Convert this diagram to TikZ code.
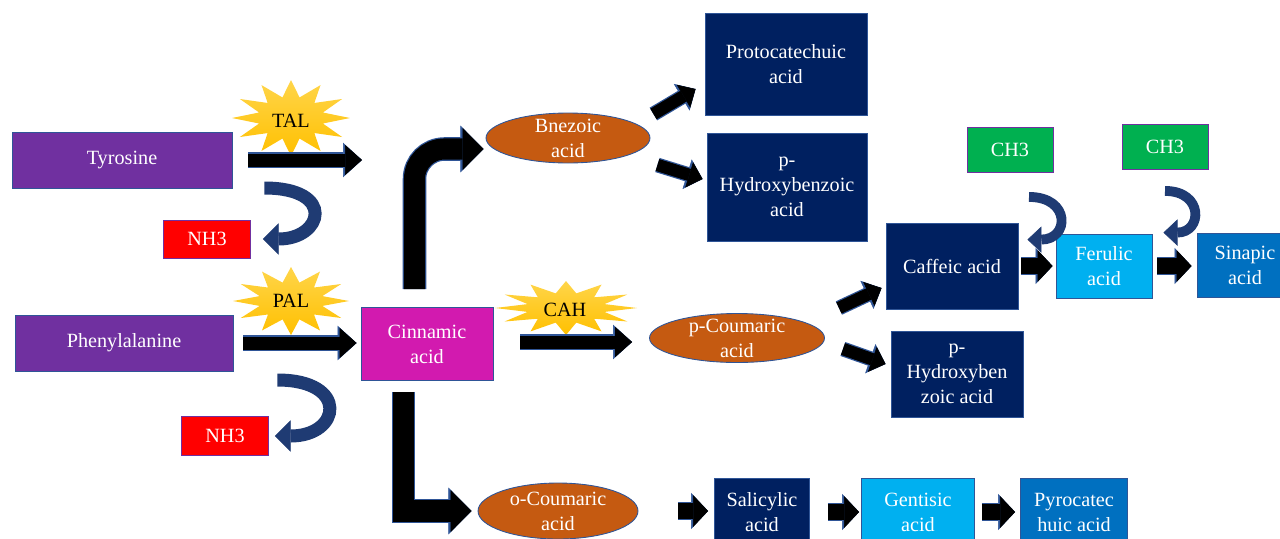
\documentclass[tikz,border=0pt]{standalone}
\usepackage{fontspec}
\setmainfont{Liberation Serif}
\usetikzlibrary{arrows.meta,calc,shapes.geometric}

\definecolor{purp}{HTML}{7030A0}
\definecolor{navy}{HTML}{002060}
\definecolor{rust}{HTML}{C55A11}
\definecolor{magen}{HTML}{D21AAF}
\definecolor{leaf}{HTML}{00B050}
\definecolor{sky}{HTML}{00B0F0}
\definecolor{ocean}{HTML}{0070C0}
\definecolor{rim}{HTML}{2F5597}
\definecolor{curlblue}{HTML}{1F3B73}
\definecolor{gold}{HTML}{FFC000}
\definecolor{goldhi}{HTML}{FFD54A}

% star burst behind an enzyme name: center, x radius, y radius
\newcommand{\burst}[3]{%
  \path[top color=goldhi,bottom color=gold,shift={#1}] (0:#2 and #3)
    \foreach \a in {0,30,...,330}{ -- ({\a}:#2 and #3) -- ({\a+15}:{0.56*#2} and {0.56*#3}) } -- cycle;}

\tikzset{
  lbl/.style={font={\fontsize{11.5}{14.2}\selectfont}},
  box/.style={lbl,rectangle,draw=rim,line width=0.5pt,text=white,align=center,inner sep=0pt},
  tag/.style={box,draw=purp},
  oval/.style={ellipse,draw=rim,line width=0.5pt,fill=rust,inner sep=0pt},
  enz/.style={lbl,text=black},
  fat/.style={line width=7.4pt,-{Triangle[length=9.6pt,width=17pt,line width=0.3pt]},
    preaction={draw=rim,line width=8.8pt,-{Triangle[length=10.8pt,width=19.6pt,line width=0.3pt]}}},
  big/.style={line width=12pt,-{Triangle[length=12pt,width=24pt,line width=0.3pt]},
    preaction={draw=rim,line width=13.4pt,-{Triangle[length=13.2pt,width=26.6pt,line width=0.3pt]}}},
  stub/.style={line width=9pt,-{Triangle[length=8.5pt,width=18pt,line width=0.3pt]},
    preaction={draw=rim,line width=10.4pt,-{Triangle[length=9.7pt,width=20.6pt,line width=0.3pt]}}},
  slant/.style={line width=7pt,-{Triangle[length=8pt,width=15pt,line width=0.3pt]},
    preaction={draw=rim,line width=8.4pt,-{Triangle[length=9.2pt,width=17.6pt,line width=0.3pt]}}},
  curl/.style={draw=curlblue,line width=7.4pt,-{Triangle[length=9pt,width=18pt,line width=0.3pt]}},
  thincurl/.style={curl,line width=5.6pt,-{Triangle[length=8pt,width=15pt,line width=0.3pt]}},
}

\begin{document}
\begin{tikzpicture}[x=0.02cm,y=-0.02cm]
  \useasboundingbox (0,0) rectangle (1280,538);
  \clip (0,0) rectangle (1280,538);

  % enzymes
  \burst{(291,118)}{59}{38}
  \burst{(291,301)}{58}{34}
  \burst{(566,308)}{71}{27}
  \node[enz] (tal) at (291,121) {TAL};
  \node[enz] (pal) at (291,301) {PAL};
  \node[enz] (cah) at (565,310) {CAH};

  % precursors
  \node[box,fill=purp,minimum width=4.4cm,minimum height=1.12cm] (tyr) at (122,160) {Tyrosine};
  \node[tag,fill=red,minimum width=1.74cm,minimum height=0.76cm] (nh3a) at (207,239) {NH3};
  \node[box,fill=purp,minimum width=4.36cm,minimum height=1.12cm] (phe) at (124,343) {Phenylalanine};
  \node[tag,fill=red,minimum width=1.74cm,minimum height=0.78cm] (nh3b) at (225,436) {NH3};
  \node[box,fill=magen,minimum width=2.64cm,minimum height=1.46cm] (cin) at (427,344) {Cinnamic\\acid};

  % benzoic branch
  \node[oval,minimum width=3.28cm,minimum height=1cm,
    label={[lbl,text=white,align=center]center:Bnezoic\\acid}] (bnz) at (568,138) {};
  \node[box,fill=navy,minimum width=3.24cm,minimum height=2.04cm] (proto) at (786,64) {Protocatechuic\\acid};
  \node[box,fill=navy,minimum width=3.2cm,minimum height=2.16cm] (phb) at (787,187) {p-\\Hydroxybenzoic\\acid};

  % coumaric branch
  \node[oval,minimum width=3.5cm,minimum height=0.98cm,
    label={[lbl,text=white,align=center]center:p-Coumaric\\acid}] (pcou) at (737,338) {};
  \node[box,fill=navy,minimum width=2.64cm,minimum height=1.72cm] (caf) at (952,266) {Caffeic acid};
  \node[box,fill=navy,minimum width=2.64cm,minimum height=1.72cm] (phz) at (957,374) {p-\\Hydroxyben\\zoic acid};
  \node[tag,fill=leaf,minimum width=1.72cm,minimum height=0.9cm] (ch3a) at (1010,150) {CH3};
  \node[tag,fill=leaf,minimum width=1.72cm,minimum height=0.9cm] (ch3b) at (1165,147) {CH3};
  \node[box,fill=sky,minimum width=1.92cm,minimum height=1.28cm] (fer) at (1104,266) {Ferulic\\acid};
  \node[box,fill=ocean,minimum width=1.92cm,minimum height=1.28cm] (sin) at (1245,265) {Sinapic\\acid};

  % salicylic branch
  \node[oval,minimum width=3.2cm,minimum height=1.12cm,
    label={[lbl,text=white,align=center]center:o-Coumaric\\acid}] (ocou) at (558,511) {};
  \node[box,fill=navy,minimum width=1.9cm,minimum height=1.36cm] (sal) at (762,512) {Salicylic\\acid};
  \node[box,fill=sky,minimum width=2.26cm,minimum height=1.36cm] (gen) at (918,512) {Gentisic\\acid};
  \node[box,fill=ocean,minimum width=2.14cm,minimum height=1.36cm] (pyr) at (1074,512) {Pyrocatec\\huic acid};

  % loose arrow ends
  \coordinate (tyrend) at (362,160);
  \coordinate (bu0) at ($(bnz.east)+(3,-24)$);
  \coordinate (bu1) at ($(proto.west)+(-9,25)$);
  \coordinate (bd0) at ($(bnz.east)+(7,27)$);
  \coordinate (bd1) at ($(phb.west)+(-4,-8)$);
  \coordinate (pu0) at ($(pcou.east)+(14,-30)$);
  \coordinate (pu1) at ($(caf.west)+(-4,22)$);
  \coordinate (pd0) at ($(pcou.east)+(18,11)$);
  \coordinate (pd1) at ($(phz.west)+(-5,-10)$);
  \coordinate (ka) at ($(tyr.east)+(32,28)$);
  \coordinate (kb) at ($(phe.east)+(44,37)$);
  \coordinate (c1) at ($(ch3a.south)+(19,24)$);
  \coordinate (m1) at ($(caf.north east)+(9,17)$);
  \coordinate (c2) at ($(ch3b.south)+(0,21)$);
  \coordinate (m2) at ($(fer.north east)+(11,-1)$);

  % block arrows
  \draw[fat,shorten <=0.32cm] (tyr.east) -- (tyrend);
  \draw[fat,shorten <=0.2cm,shorten >=0.08cm] (phe.east) -- (phe.east -| cin.west);
  \draw[fat,shorten <=0.54cm,shorten >=0.34cm] ([yshift=0.04cm]cin.east) -- ([yshift=0.04cm]cin.east -| pcou.west);
  \draw[big,rounded corners=0.6cm] ([xshift=-0.25cm,yshift=0.36cm]cin.north) |- ([xshift=-0.04cm,yshift=-0.22cm]bnz.west);
  \draw[big,shorten >=0.12cm] ([xshift=-0.47cm,yshift=-0.22cm]cin.south) |- (ocou.west);
  \draw[slant] (bu0) -- (bu1);
  \draw[slant] (bd0) -- (bd1);
  \draw[slant] (pu0) -- (pu1);
  \draw[slant] (pd0) -- (pd1);
  \draw[stub,shorten <=0.06cm,shorten >=0.06cm] (caf.east) -- (caf.east -| fer.west);
  \draw[stub,shorten <=0.1cm,shorten >=0.1cm] (fer.east) -- (fer.east -| sin.west);
  \draw[stub,shorten <=0.8cm,shorten >=0.12cm] (ocou.east) -- (ocou.east -| sal.west);
  \draw[stub,shorten <=0.36cm,shorten >=0.04cm] (sal.east) -- (gen.west);
  \draw[stub,shorten <=0.14cm,shorten >=0.1cm] (gen.east) -- (pyr.west);

  % released / added groups
  \draw[curl,shorten >=0.24cm] (ka) .. controls +(72,0) and +(72,0) .. (nh3a.east);
  \draw[curl,shorten >=0.12cm] (kb) .. controls +(72,0) and +(72,0) .. (nh3b.east);
  \draw[thincurl] (c1) .. controls +(42,0) and +(42,0) .. (m1);
  \draw[thincurl] (c2) .. controls +(39,0) and +(39,0) .. (m2);
\end{tikzpicture}
\end{document}
